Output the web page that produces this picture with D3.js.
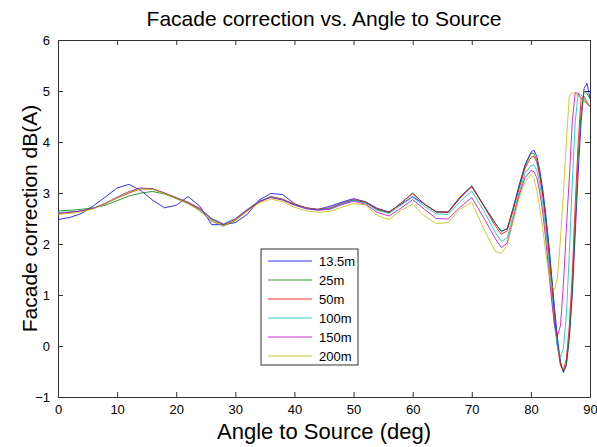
<!DOCTYPE html>
<html>
<head>
<meta charset="utf-8">
<script src="https://cdn.jsdelivr.net/npm/d3@7"></script>
<style>
    body { margin: 0; background: #fff; }
    #chart-area text { font-family: Arial, "Liberation Sans", sans-serif; fill: #000; }
    .axis path, .axis line { stroke: #333; }
</style>
</head>
<body>
<div id="chart-area"></div>
<script>

// angle to source (deg) - same samples for every series
const angles = [0, 2, 4, 6, 8, 10, 12, 14, 16, 18, 20, 22, 24, 26, 28, 30, 32, 34, 36, 38,
    40, 42, 44, 46, 48, 50, 52, 54, 56, 58, 60, 62, 64, 66, 68, 70, 72, 74,
    75, 76, 77, 78, 79, 80, 80.5, 81, 81.5, 82, 82.5, 83, 83.5, 84, 84.5, 85,
    85.5, 86, 86.5, 87, 87.5, 88, 88.5, 89, 89.5, 90];

// facade correction dB(A), one array per distance
const d13_5 = [2.48, 2.52, 2.60, 2.75, 2.92, 3.10, 3.17, 3.05, 2.86, 2.71, 2.76, 2.93, 2.74, 2.38, 2.38, 2.42, 2.58, 2.86, 2.99, 2.97,
    2.79, 2.70, 2.68, 2.74, 2.82, 2.89, 2.83, 2.70, 2.63, 2.78, 2.93, 2.78, 2.63, 2.63, 2.92, 3.14, 2.76, 2.40,
    2.25, 2.30, 2.70, 3.15, 3.55, 3.80, 3.84, 3.72, 3.45, 3.08, 2.60, 2.05, 1.40, 0.75, 0.15, -0.30,
    -0.52, -0.38, 0.15, 1.00, 2.20, 3.40, 4.40, 5.05, 5.15, 4.85];
const d25 = [2.65, 2.66, 2.68, 2.71, 2.76, 2.85, 2.94, 3.00, 3.03, 2.98, 2.89, 2.80, 2.65, 2.45, 2.35, 2.46, 2.65, 2.82, 2.93, 2.87,
    2.78, 2.71, 2.67, 2.70, 2.79, 2.86, 2.82, 2.68, 2.61, 2.80, 3.00, 2.78, 2.63, 2.62, 2.90, 3.13, 2.76, 2.40,
    2.25, 2.30, 2.70, 3.12, 3.52, 3.78, 3.78, 3.65, 3.38, 3.00, 2.52, 1.95, 1.30, 0.65, 0.05, -0.35,
    -0.50, -0.35, 0.20, 1.10, 2.40, 3.70, 4.60, 5.00, 4.95, 4.85];
const d50 = [2.60, 2.62, 2.65, 2.70, 2.79, 2.90, 3.00, 3.08, 3.08, 3.00, 2.91, 2.82, 2.70, 2.50, 2.38, 2.48, 2.66, 2.83, 2.93, 2.88,
    2.78, 2.71, 2.68, 2.71, 2.80, 2.87, 2.82, 2.68, 2.62, 2.80, 2.99, 2.78, 2.63, 2.62, 2.90, 3.12, 2.75, 2.35,
    2.19, 2.26, 2.66, 3.08, 3.48, 3.70, 3.72, 3.60, 3.32, 2.95, 2.45, 1.85, 1.20, 0.55, 0.00, -0.38,
    -0.48, -0.25, 0.40, 1.40, 2.80, 4.00, 4.85, 4.90, 4.78, 4.70];
const d100 = [2.62, 2.63, 2.65, 2.70, 2.79, 2.91, 3.02, 3.09, 3.08, 3.00, 2.91, 2.81, 2.69, 2.50, 2.40, 2.50, 2.68, 2.84, 2.92, 2.87,
    2.77, 2.70, 2.67, 2.70, 2.79, 2.86, 2.80, 2.66, 2.60, 2.76, 2.92, 2.74, 2.59, 2.58, 2.83, 3.04, 2.66, 2.22,
    2.05, 2.12, 2.55, 3.00, 3.38, 3.54, 3.55, 3.45, 3.18, 2.80, 2.30, 1.70, 1.05, 0.40, -0.05, -0.22,
    -0.05, 0.60, 1.80, 3.20, 4.40, 4.95, 4.92, 4.85, 4.75, 4.70];
const d150 = [2.60, 2.62, 2.65, 2.70, 2.80, 2.92, 3.03, 3.10, 3.08, 3.00, 2.90, 2.80, 2.68, 2.48, 2.38, 2.49, 2.67, 2.83, 2.91, 2.86,
    2.76, 2.69, 2.66, 2.68, 2.77, 2.84, 2.78, 2.62, 2.55, 2.70, 2.87, 2.68, 2.50, 2.49, 2.72, 2.91, 2.52, 2.10,
    1.93, 2.02, 2.48, 2.95, 3.30, 3.44, 3.42, 3.30, 3.02, 2.62, 2.10, 1.50, 0.90, 0.40, 0.20, 0.40,
    1.20, 2.30, 3.30, 4.40, 4.97, 4.95, 4.85, 4.80, 4.75, 4.70];
const d200 = [2.58, 2.60, 2.63, 2.69, 2.79, 2.91, 3.02, 3.08, 3.07, 2.99, 2.89, 2.79, 2.66, 2.45, 2.36, 2.47, 2.64, 2.80, 2.88, 2.83,
    2.72, 2.65, 2.62, 2.64, 2.72, 2.79, 2.77, 2.56, 2.48, 2.66, 2.78, 2.55, 2.40, 2.42, 2.68, 2.82, 2.30, 1.85,
    1.82, 1.98, 2.45, 2.90, 3.22, 3.36, 3.30, 3.05, 2.72, 2.30, 1.85, 1.45, 1.18, 1.10, 1.35, 2.10,
    3.00, 4.00, 4.90, 4.97, 4.95, 4.90, 4.85, 4.80, 4.75, 4.70];

const seriesNames = ["13.5m", "25m", "50m", "100m", "150m", "200m"];
const seriesValues = [d13_5, d25, d50, d100, d150, d200];
const seriesColors = ["#0000ff", "#008000", "#ff0000", "#00bfbf", "#bf00bf", "#bfbf00"];

const xTicks = [0, 10, 20, 30, 40, 50, 60, 70, 80, 90];
const yTicks = [-1, 0, 1, 2, 3, 4, 5, 6];


class FacadeVis {

    constructor(_parentElement) {
        this.parentElement = _parentElement;
        this.data = seriesNames.map((name, i) => ({
            name: name,
            color: seriesColors[i],
            values: angles.map((a, j) => ({angle: a, value: seriesValues[i][j]}))
        }));
        this.initVis();
    }

    initVis() {
        let vis = this;
        let margin = {top: 40, right: 7, bottom: 50, left: 58};

        vis.width = 597 - margin.left - margin.right;
        vis.height = 447 - margin.top - margin.bottom;

        vis.svg = d3.select("#" + vis.parentElement).append("svg")
            .attr("width", 597)
            .attr("height", 447)
            .append("g")
            .attr("transform", "translate(" + margin.left + "," + margin.top + ")");

        vis.x = d3.scaleLinear().domain([0, 90]).range([0, vis.width]);
        vis.y = d3.scaleLinear().domain([-1, 6]).range([vis.height, 0]);

        // box + inward ticks on all four sides
        vis.svg.append("g")
            .attr("class", "axis x-axis")
            .attr("transform", "translate(0," + vis.height + ")")
            .call(d3.axisBottom(vis.x).tickValues(xTicks).tickSizeInner(-5).tickSizeOuter(0).tickPadding(8).tickFormat(d3.format("d")));
        vis.svg.append("g")
            .attr("class", "axis")
            .call(d3.axisTop(vis.x).tickValues(xTicks).tickSizeInner(-5).tickSizeOuter(0).tickFormat(""));
        vis.svg.append("g")
            .attr("class", "axis y-axis")
            .call(d3.axisLeft(vis.y).tickValues(yTicks).tickSizeInner(-5).tickSizeOuter(0).tickPadding(8).tickFormat(d3.format("d")));
        vis.svg.append("g")
            .attr("class", "axis")
            .attr("transform", "translate(" + vis.width + ",0)")
            .call(d3.axisRight(vis.y).tickValues(yTicks).tickSizeInner(-5).tickSizeOuter(0).tickFormat(""));

        vis.svg.selectAll(".axis text").style("font-size", "13px");

        vis.svg.append("text")
            .attr("x", vis.width / 2)
            .attr("y", -14)
            .attr("text-anchor", "middle")
            .style("font-size", "21px")
            .text("Facade correction vs. Angle to Source");

        vis.svg.append("text")
            .attr("transform", "translate(" + vis.width / 2 + ", " + (vis.height + 42) + ")")
            .attr("text-anchor", "middle")
            .style("font-size", "22px")
            .text("Angle to Source (deg)");

        vis.svg.append("text")
            .attr("transform", "rotate(-90)")
            .attr("x", -vis.height / 2)
            .attr("y", -21)
            .attr("text-anchor", "middle")
            .style("font-size", "21px")
            .text("Facade correction dB(A)");

        vis.updateVis();
    }

    updateVis() {
        let vis = this;

        let line = d3.line()
            .x(d => vis.x(d.angle))
            .y(d => vis.y(d.value));

        vis.svg.selectAll(".line")
            .data(vis.data)
            .enter().append("path")
            .attr("class", "line")
            .attr("d", d => line(d.values))
            .attr("stroke", d => d.color)
            .attr("stroke-width", 1)
            .attr("stroke-opacity", 0.8)
            .attr("fill", "none");

        // legend
        let lx = 203, ly = 209;
        let legend = vis.svg.append("g")
            .attr("transform", "translate(" + lx + "," + ly + ")");

        legend.append("rect")
            .attr("width", 97)
            .attr("height", 116)
            .attr("fill", "#fff")
            .attr("stroke", "#333");

        let rows = legend.selectAll(".legend-row")
            .data(vis.data)
            .enter().append("g")
            .attr("class", "legend-row")
            .attr("transform", (d, i) => "translate(0," + (12 + i * 19) + ")");

        rows.append("line")
            .attr("x1", 7)
            .attr("x2", 51)
            .attr("stroke", d => d.color)
            .attr("stroke-opacity", 0.8);

        rows.append("text")
            .attr("x", 58)
            .attr("dy", "0.35em")
            .style("font-size", "13px")
            .text(d => d.name);
    }
}

let facadeVis = new FacadeVis("chart-area");
</script>
</body>
</html>
